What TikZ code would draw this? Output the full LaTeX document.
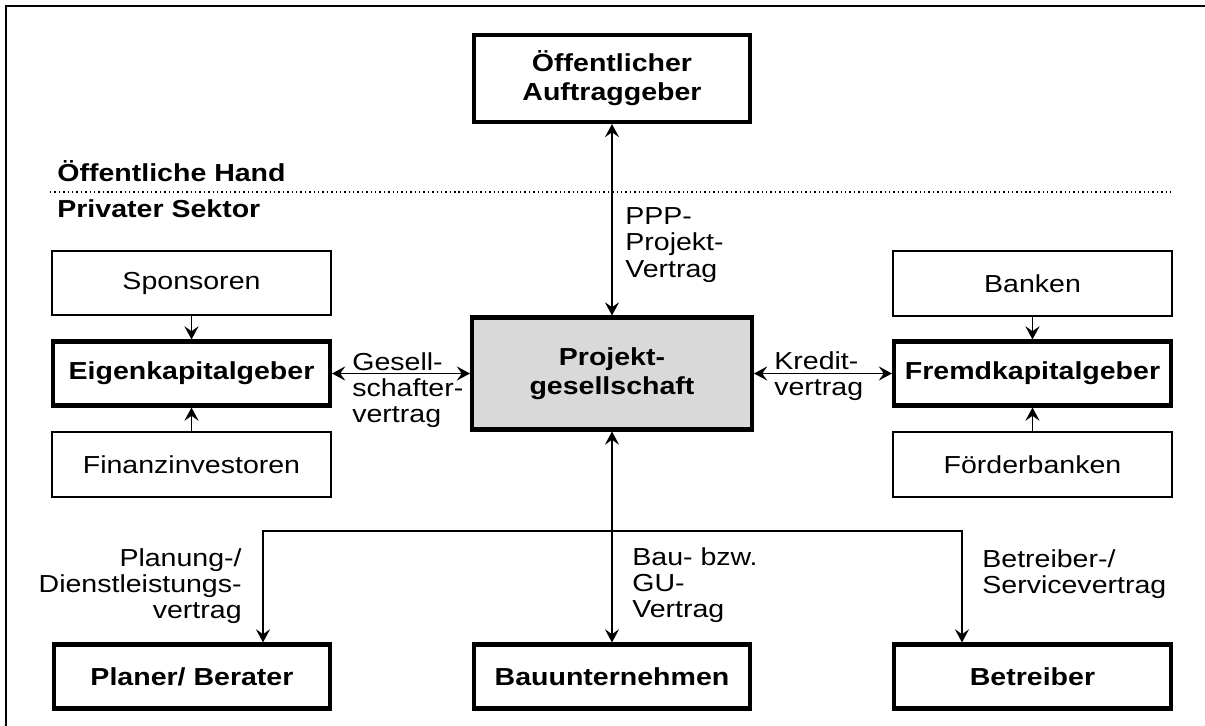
\documentclass[tikz,border=0pt]{standalone}
\usepackage{fontspec}
\setmainfont{Liberation Sans}[FakeStretch=1.16]
\usetikzlibrary{arrows.meta}
\definecolor{projgrau}{RGB}{217,217,217}

\begin{document}
\begin{tikzpicture}[x=0.02cm, y=-0.02cm,
	>={Stealth[length=7.5pt,width=8pt,inset=2.8pt]},
	every node/.style={font=\fontsize{14}{14.9}\selectfont},
	partner/.style={draw, line width=1.3pt, minimum width=5.57cm, minimum height=1.29cm, inner sep=0pt},
	haupt/.style={draw, line width=2.3pt, minimum width=5.54cm, minimum height=1.28cm, inner sep=0pt, align=center, font=\bfseries\fontsize{14}{16.6}\selectfont},
	vertrag/.style={inner sep=0pt},
	sektor/.style={inner sep=0pt, anchor=base west, font=\bfseries\fontsize{14}{14.9}\selectfont},
	pfeil/.style={line width=1.1pt}]
		\useasboundingbox (0,0) rectangle (1205,726);
		\draw [line width=1.1pt] (6,726) -- (6,6) -- (1205,6);

		\draw (57,182) node [sektor] (hand) {Öffentliche Hand};
		\draw (57,218) node [sektor] (privat) {Privater Sektor};
		\draw [line width=0.6pt, dash pattern=on 0.8pt off 1.7pt] (50,192) -- (1173,192);

		\draw (612,78.5) node [haupt, minimum height=1.74cm] (oeff) {Öffentlicher\\Auftraggeber};
		\draw (612,373.5) node [haupt, fill=projgrau, minimum width=5.6cm, minimum height=2.24cm] (projekt) {Projekt-\\gesellschaft};

		\draw (191.5,283) node [partner] (sponsoren) {Sponsoren};
		\draw (191.5,373.5) node [haupt] (eigen) {Eigenkapitalgeber};
		\draw (191.5,464.5) node [partner] (finanz) {Finanzinvestoren};

		\draw (1032.5,283.5) node [partner] (banken) {Banken};
		\draw (1032.5,373.5) node [haupt] (fremd) {Fremdkapitalgeber};
		\draw (1032.5,464.5) node [partner] (foerder) {Förderbanken};

		\draw (192,676.5) node [haupt] (planer) {Planer/ Berater};
		\draw (612,676.5) node [haupt] (bau) {Bauunternehmen};
		\draw (1032.5,676.5) node [haupt] (betreiber) {Betreiber};

		\draw (625,245) node [vertrag, anchor=west, align=left] (ppp) {PPP-\\Projekt-\\Vertrag};
		\draw (352,390) node [vertrag, anchor=west, align=left] (gesell) {Gesell-\\schafter-\\vertrag};
		\draw (774,376.5) node [vertrag, anchor=west, align=left] (kredit) {Kredit-\\vertrag};
		\draw (242,586) node [vertrag, anchor=east, align=right] (planung) {Planung-/\\Dienstleistungs-\\vertrag};
		\draw (632,585) node [vertrag, anchor=west, align=left] (gu) {Bau- bzw.\\GU-\\Vertrag};
		\draw (982,574.5) node [vertrag, anchor=west, align=left] (service) {Betreiber-/\\Servicevertrag};

		\coordinate (planknick) at (263,531);
		\coordinate (betrknick) at (962,531);

		\draw [pfeil, <->]
		(oeff) edge (projekt)
		(projekt) edge (eigen)
		          edge (fremd)
		          edge (bau);
		\draw [pfeil, ->]
		(sponsoren) edge (eigen)
		(finanz) edge (eigen)
		(banken) edge (fremd)
		(foerder) edge (fremd);
		\draw [pfeil, <->] (planer.north -| planknick) -- (planknick) -- (betrknick) -- (betreiber.north -| betrknick);
	\end{tikzpicture}
\end{document}
